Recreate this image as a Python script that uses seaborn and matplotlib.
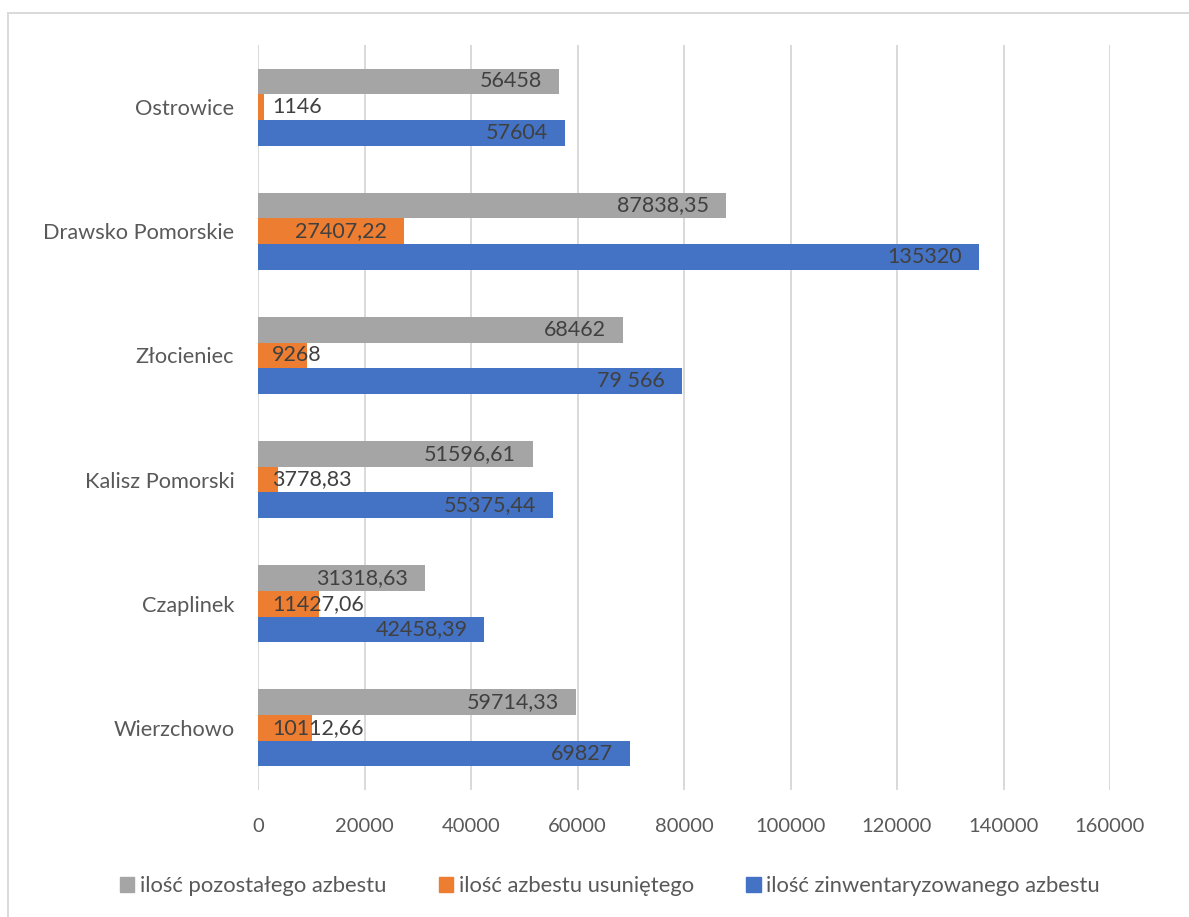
import pandas as pd
import matplotlib.pyplot as plt
import matplotlib.patches as mpatches
import seaborn as sns

# Dane: gminy i trzy serie (ilości azbestu)
gminy = ['Ostrowice', 'Drawsko Pomorskie', 'Złocieniec', 'Kalisz Pomorski',
         'Czaplinek', 'Wierzchowo']
serie = ['ilość pozostałego azbestu', 'ilość azbestu usuniętego',
         'ilość zinwentaryzowanego azbestu']

pozostaly = [56458, 87838.35, 68462, 51596.61, 31318.63, 59714.33]
usuniety = [1146, 27407.22, 9268, 3778.83, 11427.06, 10112.66]
zinwentaryzowany = [57604, 135320, 79566, 55375.44, 42458.39, 69827]

# etykiety tak jak w oryginale (przecinek dziesiętny)
etyk_pozostaly = ['56458', '87838,35', '68462', '51596,61', '31318,63',
                  '59714,33']
etyk_usuniety = ['1146', '27407,22', '9268', '3778,83', '11427,06',
                 '10112,66']
etyk_zinw = ['57604', '135320', '79 566', '55375,44', '42458,39', '69827']

kolory = ['#A5A5A5', '#ED7D31', '#4472C4']

W, H = 1189, 917

# budowa tabeli dla seaborn
df = pd.DataFrame({
    'gmina': gminy * 3,
    'seria': [serie[0]] * 6 + [serie[1]] * 6 + [serie[2]] * 6,
    'wartosc': pozostaly + usuniety + zinwentaryzowany,
})

sns.set_style('white')
plt.rcParams['font.family'] = ['Lato', 'DejaVu Sans']

fig = plt.figure(figsize=(W / 100, H / 100), dpi=100)
ax = fig.add_axes([258 / W, 1 - 790 / H, (1110 - 258) / W, 745 / H])

sns.barplot(data=df, y='gmina', x='wartosc', hue='seria', hue_order=serie,
            order=gminy, palette=kolory, orient='h', width=0.62, gap=0,
            saturation=1, linewidth=0, errorbar=None, ax=ax)

ax.set_xlim(0, 160000)
ax.set_ylim(5.5, -0.5)
ax.set_xticks(range(0, 160001, 20000))
ax.xaxis.grid(True, color='#D9D9D9', linewidth=1.4)
ax.set_axisbelow(True)
for s in ax.spines.values():
    s.set_visible(False)
ax.set_xlabel('')
ax.set_ylabel('')
ax.tick_params(axis='x', length=0, pad=20, labelsize=14.5,
               labelcolor='#595959')
ax.tick_params(axis='y', length=0, pad=17, labelsize=15.7,
               labelcolor='#595959')

# etykiety danych - "koniec wewnątrz", a gdy się nie mieszczą, od początku
fig.canvas.draw()
renderer = fig.canvas.get_renderer()
wszystkie_etykiety = [etyk_pozostaly, etyk_usuniety, etyk_zinw]
for cont, etykiety in zip(ax.containers, wszystkie_etykiety):
    for bar, txt in zip(cont, etykiety):
        y = bar.get_y() + bar.get_height() / 2
        x_end = bar.get_x() + bar.get_width()
        t = ax.annotate(txt, (x_end, y), xytext=(-12, 0),
                        textcoords='offset points', ha='right', va='center',
                        fontsize=15.5, color='#404040')
        szer = t.get_window_extent(renderer).width
        dl_px = ax.transData.transform((x_end, 0))[0] - \
            ax.transData.transform((0, 0))[0]
        if szer + 16 + 14 > dl_px:
            t.remove()
            ax.annotate(txt, (0, y), xytext=(10, 0),
                        textcoords='offset points', ha='left', va='center',
                        fontsize=15.5, color='#404040')

# legenda na dole
uchwyty = [mpatches.Patch(color=c) for c in kolory]
ax.legend(uchwyty, serie, loc='center', ncol=3, frameon=False,
          bbox_to_anchor=(610 / W, 1 - 886 / H),
          bbox_transform=fig.transFigure, fontsize=15.8,
          labelcolor='#595959', handlelength=0.65, handleheight=0.65,
          handletextpad=0.25, columnspacing=2.4)

# ramka wykresu
fig.patches.append(mpatches.Rectangle((8 / W, -0.1), 1.2, 1.1 - 13 / H,
                                      transform=fig.transFigure, fill=False,
                                      edgecolor='#D9D9D9', linewidth=1.4))

fig.savefig('out.png', dpi=100)
